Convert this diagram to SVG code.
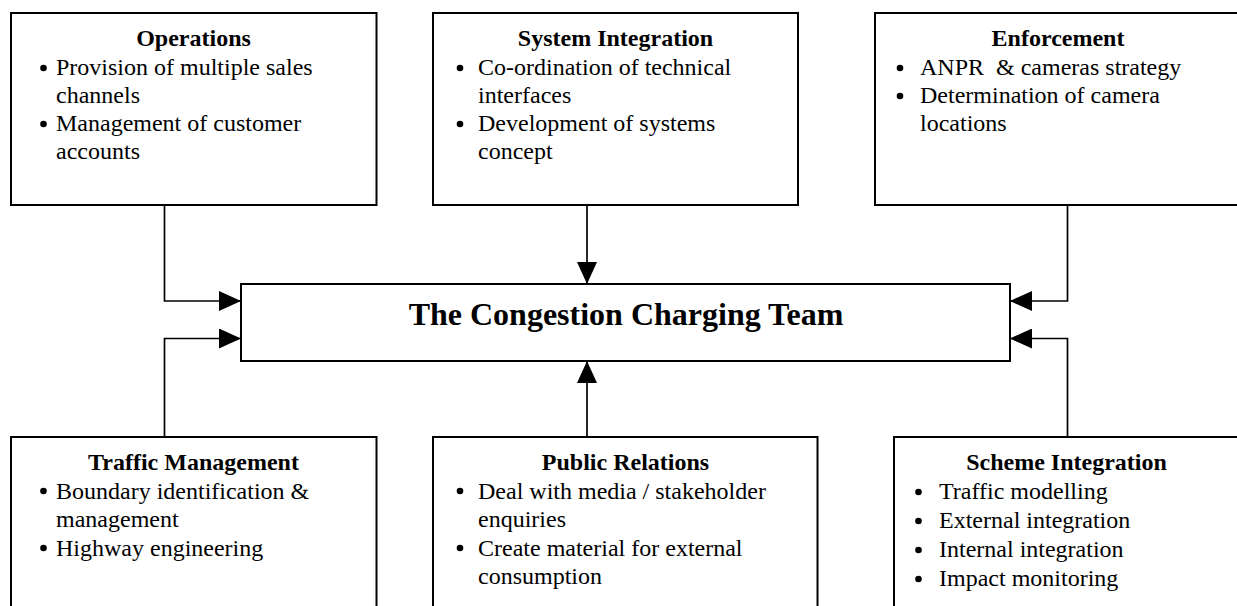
<svg xmlns="http://www.w3.org/2000/svg" width="1237" height="606" viewBox="0 0 1237 606">
<style>
.box{fill:#fff;stroke:#000;stroke-width:2}
.conn{fill:none;stroke:#000;stroke-width:1.7}
.t{font-family:"Liberation Serif","Times New Roman",serif;font-size:24px;fill:#000;white-space:pre}
.h{font-weight:bold;text-anchor:middle}
.main{font-family:"Liberation Serif","Times New Roman",serif;font-size:32px;font-weight:bold;text-anchor:middle;fill:#000}
.b{fill:#000}
</style>
<defs>
<marker id="ah" viewBox="0 0 22 20" refX="22" refY="10" markerWidth="22" markerHeight="20" markerUnits="userSpaceOnUse" orient="auto">
<path d="M0,0 L22,10 L0,20 z" fill="#000"/>
</marker>
</defs>
<rect width="1237" height="606" fill="#fff"/>

<g id="connectors">
<path class="conn" d="M164.5,205 V301 H241" marker-end="url(#ah)"/>
<path class="conn" d="M587,205 V284" marker-end="url(#ah)"/>
<path class="conn" d="M1067.5,205 V301 H1010" marker-end="url(#ah)"/>
<path class="conn" d="M164.5,437 V338.5 H241" marker-end="url(#ah)"/>
<path class="conn" d="M587,437 V361" marker-end="url(#ah)"/>
<path class="conn" d="M1067.5,437 V338.5 H1010" marker-end="url(#ah)"/>
</g>

<g id="team">
<rect class="box" x="241" y="284" width="769" height="77"/>
<text class="main" x="626" y="325">The Congestion Charging Team</text>
</g>

<g id="operations">
<rect class="box" x="11" y="13" width="365.5" height="192"/>
<text class="t h" x="193.5" y="45.5">Operations</text>
<circle class="b" cx="43.5" cy="68" r="3.3"/>
<text class="t" x="56" y="75">Provision of multiple sales</text>
<text class="t" x="56" y="103">channels</text>
<circle class="b" cx="43.5" cy="124" r="3.3"/>
<text class="t" x="56" y="131">Management of customer</text>
<text class="t" x="56" y="159">accounts</text>
</g>

<g id="system-integration">
<rect class="box" x="433" y="13" width="365" height="192"/>
<text class="t h" x="615.5" y="45.5">System Integration</text>
<circle class="b" cx="460" cy="68" r="3.3"/>
<text class="t" x="478" y="75">Co-ordination of technical</text>
<text class="t" x="478" y="103">interfaces</text>
<circle class="b" cx="460" cy="124" r="3.3"/>
<text class="t" x="478" y="131">Development of systems</text>
<text class="t" x="478" y="159">concept</text>
</g>

<g id="enforcement">
<rect class="box" x="875" y="13" width="366" height="192"/>
<text class="t h" x="1058" y="45.5">Enforcement</text>
<circle class="b" cx="900" cy="68" r="3.3"/>
<text class="t" x="920" y="75">ANPR  &amp; cameras strategy</text>
<circle class="b" cx="900" cy="96" r="3.3"/>
<text class="t" x="920" y="103">Determination of camera</text>
<text class="t" x="920" y="131">locations</text>
</g>

<g id="traffic-management">
<rect class="box" x="11" y="437" width="365.5" height="190"/>
<text class="t h" x="193.5" y="470">Traffic Management</text>
<circle class="b" cx="43.5" cy="491" r="3.3"/>
<text class="t" x="56" y="498.5">Boundary identification &amp;</text>
<text class="t" x="56" y="527">management</text>
<circle class="b" cx="43.5" cy="548" r="3.3"/>
<text class="t" x="56" y="555.5">Highway engineering</text>
</g>

<g id="public-relations">
<rect class="box" x="433" y="437" width="384.5" height="190"/>
<text class="t h" x="625.5" y="470">Public Relations</text>
<circle class="b" cx="460" cy="491" r="3.3"/>
<text class="t" x="478" y="498.5">Deal with media / stakeholder</text>
<text class="t" x="478" y="527">enquiries</text>
<circle class="b" cx="460" cy="548" r="3.3"/>
<text class="t" x="478" y="555.5">Create material for external</text>
<text class="t" x="478" y="584">consumption</text>
</g>

<g id="scheme-integration">
<rect class="box" x="894" y="437" width="345" height="190"/>
<text class="t h" x="1066.5" y="470">Scheme Integration</text>
<circle class="b" cx="918.5" cy="492" r="3.3"/>
<text class="t" x="939" y="499">Traffic modelling</text>
<circle class="b" cx="918.5" cy="521" r="3.3"/>
<text class="t" x="939" y="528">External integration</text>
<circle class="b" cx="918.5" cy="550" r="3.3"/>
<text class="t" x="939" y="557">Internal integration</text>
<circle class="b" cx="918.5" cy="579" r="3.3"/>
<text class="t" x="939" y="586">Impact monitoring</text>
</g>
</svg>
